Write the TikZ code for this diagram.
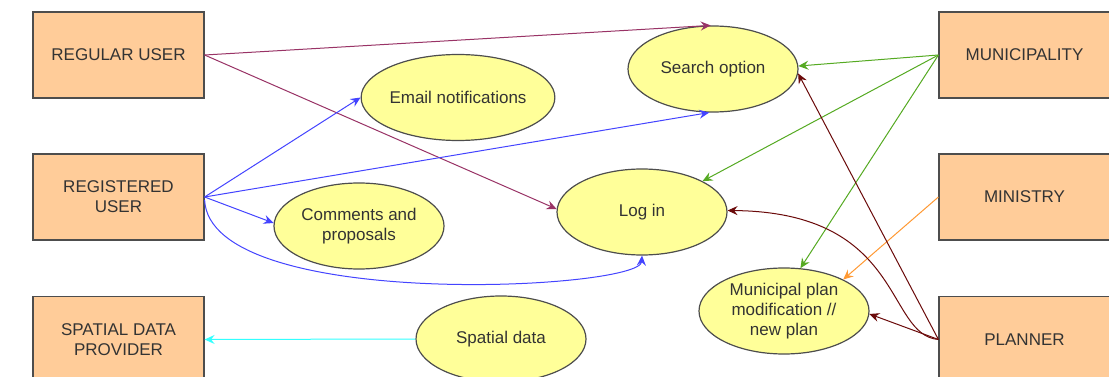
\documentclass[tikz,border=0pt]{standalone}
\usepackage{fontspec}
\setmainfont{Liberation Sans}
\usetikzlibrary{arrows.meta,shapes.geometric}
\definecolor{boxfill}{HTML}{FFCC99}
\definecolor{ellfill}{HTML}{FFFF99}
\definecolor{bordc}{HTML}{4D4D4D}
\definecolor{ruc}{HTML}{993366}
\definecolor{regc}{HTML}{4444FF}
\definecolor{munc}{HTML}{55AA22}
\definecolor{minc}{HTML}{FF9933}
\definecolor{plac}{HTML}{6B0A0A}
\definecolor{spac}{HTML}{33FFFF}
\tikzset{
  actor/.style={draw=bordc, line width=1.2pt, fill=boxfill, minimum width=171pt, minimum height=86pt, inner sep=0pt, align=center, font=\fontsize{17}{20}\selectfont, text=black!80},
  usecase/.style={draw=bordc, line width=1.2pt, fill=ellfill, ellipse, minimum width=170pt, minimum height=86pt, inner sep=0pt, align=center, font=\fontsize{17}{20}\selectfont, text=black!80},
  conn/.style={line width=1pt, -{Stealth[length=10pt,width=9pt,inset=3.5pt]}},
}
\begin{document}
\begin{tikzpicture}[x=1pt,y=-1pt]
\useasboundingbox (0,0) rectangle (1109,377);
\clip (0,0) rectangle (1109,377);
\fill[white] (0,0) rectangle (1109,377);
% actors
\node[actor] (ru) at (118.5,55) {REGULAR USER};
\node[actor] (reg) at (118.5,197) {REGISTERED\\USER};
\node[actor] (prov) at (118.5,339.5) {SPATIAL DATA\\PROVIDER};
\node[actor] (muni) at (1024.5,55) {MUNICIPALITY};
\node[actor] (mini) at (1024.5,197) {MINISTRY};
\node[actor] (plan) at (1024.5,339.5) {PLANNER};
% use cases
\node[usecase] (search) at (713,69) {Search option};
\node[usecase] (email) at (458,97.5) {Email notifications};
\node[usecase] (comm) at (359,226) {Comments and\\proposals};
\node[usecase] (login) at (642,212) {Log in};
\node[usecase] (mplan) at (784,311) {Municipal plan\\modification //\\new plan};
\node[usecase] (spat) at (501,339) {Spatial data};
% regular user
\draw[conn, ruc] (ru.east) -- (search.93);
\draw[conn, ruc] (ru.east) -- (login.178);
% registered user
\draw[conn, regc] (reg.east) -- (email.180);
\draw[conn, regc] (reg.east) -- (search.265);
\draw[conn, regc] (reg.east) -- (comm.178);
\draw[conn, regc] ([yshift=-3pt]reg.east) .. controls (210,312) and (640,290) .. (login.270);
% municipality
\draw[conn, munc] (muni.west) -- (search.2);
\draw[conn, munc] (muni.west) -- (login.27);
\draw[conn, munc] (muni.west) -- (mplan.69);
% ministry
\draw[conn, minc] (mini.west) -- (mplan.28);
% planner
\draw[conn, plac] (plan.west) -- (search.357);
\draw[conn, plac] (plan.west) .. controls (885,335) and (905,212) .. (login.1);
\draw[conn, plac] (plan.west) -- (mplan.358);
% spatial data
\draw[conn, spac] (spat.180) -- (prov.east);
\end{tikzpicture}
\end{document}
